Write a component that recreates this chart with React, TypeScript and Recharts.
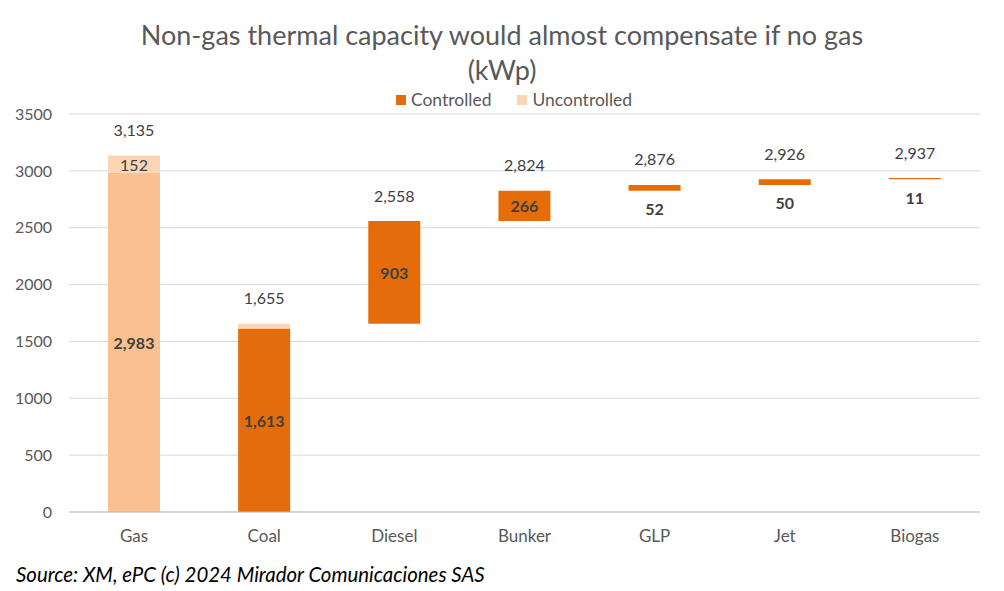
import { BarChart, Bar, XAxis, YAxis, CartesianGrid, Cell, LabelList } from "recharts";

const categories = ["Gas", "Coal", "Diesel", "Bunker", "GLP", "Jet", "Biogas"];
const baseValues = [0, 0, 1655, 2558, 2824, 2876, 2926];
const controlled = [2983, 1613, 903, 266, 52, 50, 11];
const uncontrolled = [152, 42, 0, 0, 0, 0, 0];
const totals = [3135, 1655, 2558, 2824, 2876, 2926, 2937];
const yTicks = [0, 500, 1000, 1500, 2000, 2500, 3000, 3500];

const DARK = "#E46C0A";
const GAS = "#FAC090";
const LIGHT = "#FCD5B5";
const FONT = "Lato, 'Open Sans', sans-serif";

const data = categories.map((name, i) => ({
  name,
  base: baseValues[i],
  controlled: controlled[i],
  uncontrolled: uncontrolled[i],
  total: totals[i],
}));

const fmt = (v: number) => v.toLocaleString("en-US");

function ControlledLabel(props: any) {
  const { x, y, width, height, value, index } = props;
  const small = height < 25;
  // top of the whole stack: add the uncontrolled part on top of the controlled bar
  const perUnit = height / value;
  const top = y - uncontrolled[index] * perUnit;
  return (
    <g>
      <text
        x={x + width / 2}
        y={small ? y + height + 18 : y + height / 2}
        textAnchor="middle"
        dominantBaseline="central"
        fontFamily={FONT}
        fontSize={16}
        fontWeight={700}
        fill="#404040"
      >
        {fmt(value)}
      </text>
      <text x={x + width / 2} y={top - 26} textAnchor="middle" dominantBaseline="central"
        fontFamily={FONT} fontSize={16} fill="#404040">
        {fmt(totals[index])}
      </text>
    </g>
  );
}

function UncontrolledLabel(props: any) {
  const { x, y, width, height, value, index } = props;
  if (index !== 0) return null;
  return (
    <text x={x + width / 2} y={y + height / 2} textAnchor="middle" dominantBaseline="central"
      fontFamily={FONT} fontSize={16} fill="#404040">
      {fmt(value)}
    </text>
  );
}

export default function App() {
  return (
    <div style={{ position: "absolute", left: 0, top: 0, width: 1004, height: 591, background: "#fff", fontFamily: FONT }}>
      <div style={{ position: "absolute", left: 0, top: 17, width: 1004, textAlign: "center", fontSize: 27, color: "#595959", lineHeight: "35px" }}>
        Non-gas thermal capacity would almost compensate if no gas
        <br />
        (kWp)
      </div>
      <div style={{ position: "absolute", left: 12, top: 89, width: 1004, display: "flex", justifyContent: "center", gap: 26, fontSize: 17.5, color: "#595959" }}>
        <span style={{ display: "flex", alignItems: "center", gap: 5 }}>
          <span style={{ width: 10, height: 10, background: DARK, display: "inline-block" }} />Controlled
        </span>
        <span style={{ display: "flex", alignItems: "center", gap: 5 }}>
          <span style={{ width: 10, height: 10, background: LIGHT, display: "inline-block" }} />Uncontrolled
        </span>
      </div>
      <div style={{ position: "absolute", left: 0, top: 0 }}>
        <BarChart width={1004} height={560} data={data} margin={{ top: 114, right: 24, left: 0, bottom: 18 }} barSize={52}>
          <CartesianGrid vertical={false} stroke="#D9D9D9" />
          <XAxis dataKey="name" axisLine={{ stroke: "#BFBFBF" }} tickLine={false} tickMargin={12} height={30}
            tick={{ fontSize: 17, fill: "#595959", fontFamily: FONT }} />
          <YAxis domain={[0, 3500]} ticks={yTicks} width={69} axisLine={false} tickLine={false} tickMargin={11}
            tick={{ fontSize: 16, fill: "#595959", fontFamily: FONT }} />
          <Bar dataKey="base" stackId="a" fill="transparent" isAnimationActive={false} />
          <Bar dataKey="controlled" stackId="a" fill={DARK} isAnimationActive={false}>
            {data.map((d, i) => (
              <Cell key={d.name} fill={i === 0 ? GAS : DARK} />
            ))}
            <LabelList dataKey="controlled" content={ControlledLabel} />
          </Bar>
          <Bar dataKey="uncontrolled" stackId="a" fill={LIGHT} isAnimationActive={false}>
            <LabelList dataKey="uncontrolled" content={UncontrolledLabel} />
          </Bar>
        </BarChart>
      </div>
      <div style={{ position: "absolute", left: 16, top: 562, fontSize: 20.4, fontStyle: "italic", color: "#000" }}>
        Source: XM, ePC (c) 2024 Mirador Comunicaciones SAS
      </div>
    </div>
  );
}
